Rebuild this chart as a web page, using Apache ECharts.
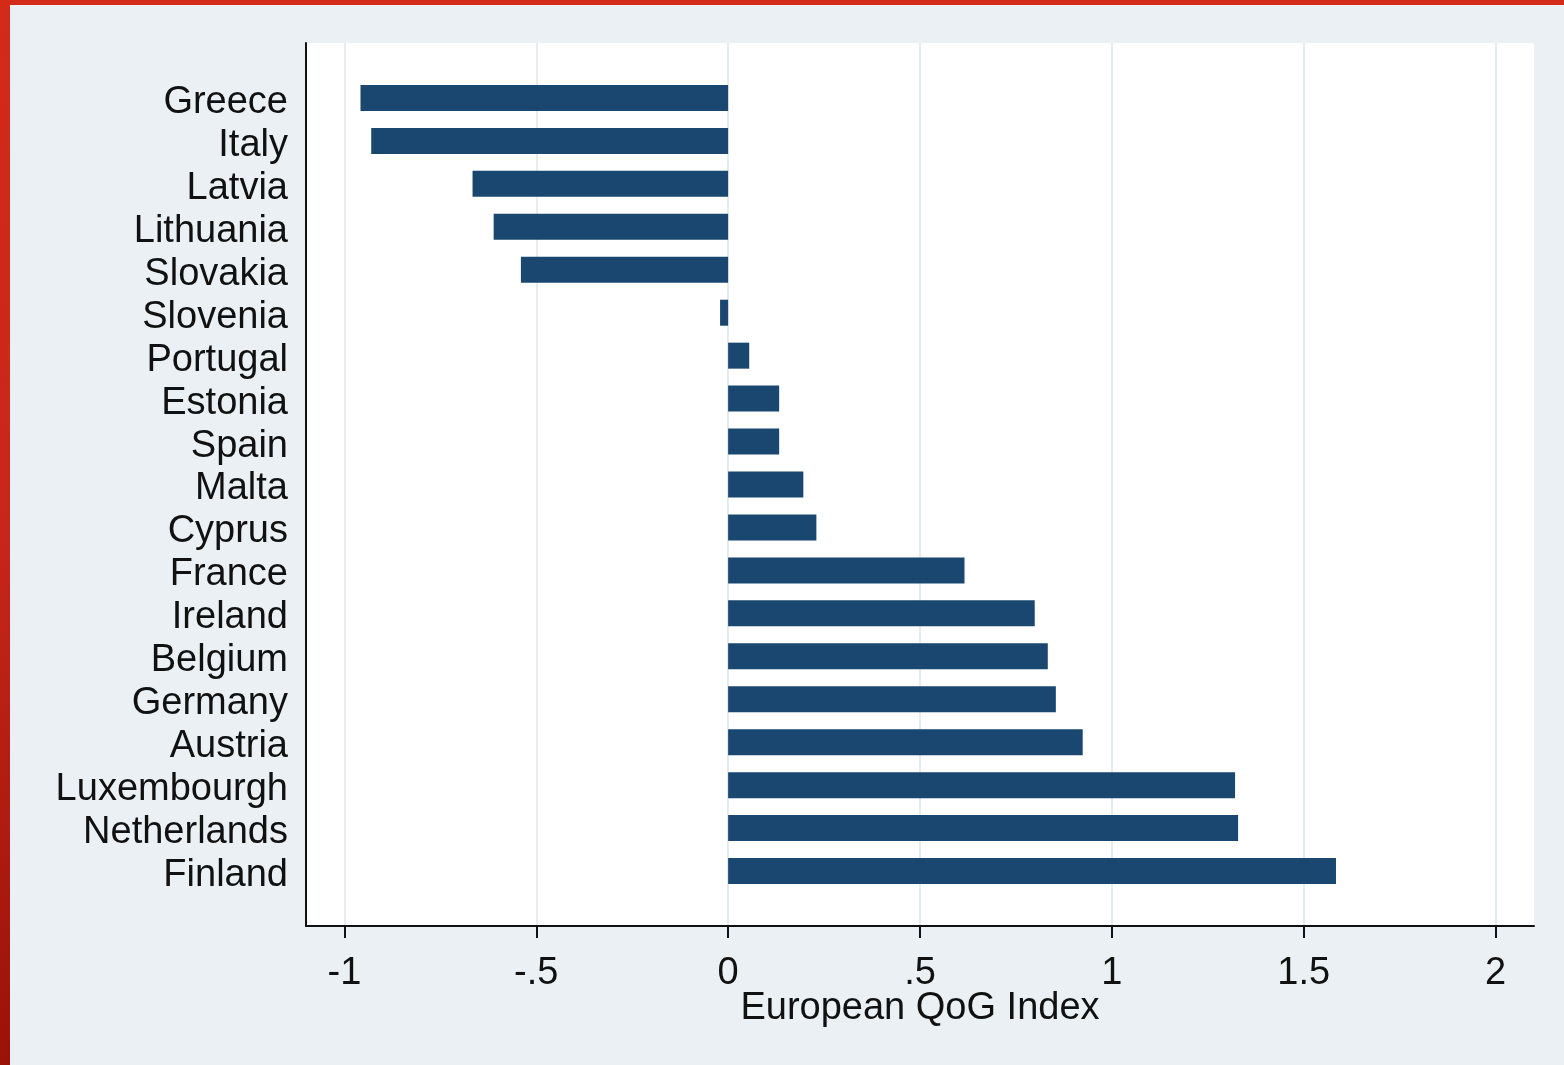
<!DOCTYPE html>
<html>
<head>
<meta charset="utf-8">
<script src="https://cdn.jsdelivr.net/npm/echarts@6/dist/echarts.min.js"></script>
<style>
  html, body { margin: 0; padding: 0; }
  body { width: 1564px; height: 1065px; background: linear-gradient(180deg, #d42a18 0%, #c8261a 50%, #9a1208 100%); position: relative; overflow: hidden; }
  #chart { position: absolute; left: 10px; top: 5px; width: 1554px; height: 1060px; background: #eaf0f3; }
</style>
</head>
<body>
<div id="chart"></div>
<script>
const categories = ["Greece","Italy","Latvia","Lithuania","Slovakia","Slovenia","Portugal","Estonia","Spain","Malta","Cyprus","France","Ireland","Belgium","Germany","Austria","Luxembourgh","Netherlands","Finland"];
const qogValues = [-0.958,-0.930,-0.666,-0.611,-0.540,-0.021,0.055,0.133,0.133,0.196,0.230,0.616,0.799,0.833,0.854,0.924,1.321,1.329,1.584];
const xTicks = [-1, -0.5, 0, 0.5, 1, 1.5, 2];
const xTitle = "European QoG Index";

const fontFam = '"Liberation Sans", Arial, sans-serif';
const chart = echarts.init(document.getElementById('chart'), null, {renderer: 'canvas'});
const fmt = v => {
  const t = xTicks.find(x => Math.abs(x - v) < 1e-9);
  if (t === undefined) return '';
  let s = String(t);
  s = s.replace(/^0\./, '.').replace(/^-0\./, '-.');
  return s;
};
chart.setOption({
  animation: false,
  backgroundColor: '#eaf0f3',
  grid: [
    {left: 296, right: 30, top: 71.5, bottom: 172.5, containLabel: false},
    {left: 296, right: 30, top: 38, bottom: 139, show: true, backgroundColor: '#ffffff', borderWidth: 0, z: 0}
  ],
  xAxis: [
    {gridIndex: 0, type: 'value', min: -1.1, max: 2.1, show: false},
    {gridIndex: 1, type: 'value', min: -1.1, max: 2.1,
     axisLine: {show: true, onZero: false, lineStyle: {color: '#111', width: 2}},
     axisTick: {show: true, length: 12, lineStyle: {color: '#111', width: 2}, customValues: xTicks},
     axisLabel: {fontSize: 38, fontFamily: fontFam, color: '#111', margin: 29, customValues: xTicks, formatter: fmt},
     splitLine: {show: true, lineStyle: {color: '#e6ecef', width: 2}},
     name: xTitle, nameLocation: 'middle', nameGap: 64, nameMoveOverlap: false,
     nameTextStyle: {fontSize: 38, fontFamily: fontFam, color: '#111'}
    }
  ],
  yAxis: [
    {gridIndex: 0, type: 'category', data: categories, inverse: true,
     axisLine: {show: false}, axisTick: {show: false},
     axisLabel: {interval: 0, margin: 18, formatter: v => '{c|' + v + '}',
       rich: {c: {fontSize: 38, fontFamily: fontFam, color: '#111', padding: [9, 0, 0, 0]}}}},
    {gridIndex: 1, type: 'value', min: 0, max: 1,
     axisLine: {show: true, onZero: false, lineStyle: {color: '#111', width: 2}},
     axisTick: {show: false}, axisLabel: {show: false}, splitLine: {show: false}}
  ],
  series: [{
    type: 'bar', xAxisIndex: 0, yAxisIndex: 0,
    data: qogValues, barWidth: 26,
    itemStyle: {color: '#1a476f'}, z: 5
  }]
});
</script>
</body>
</html>
